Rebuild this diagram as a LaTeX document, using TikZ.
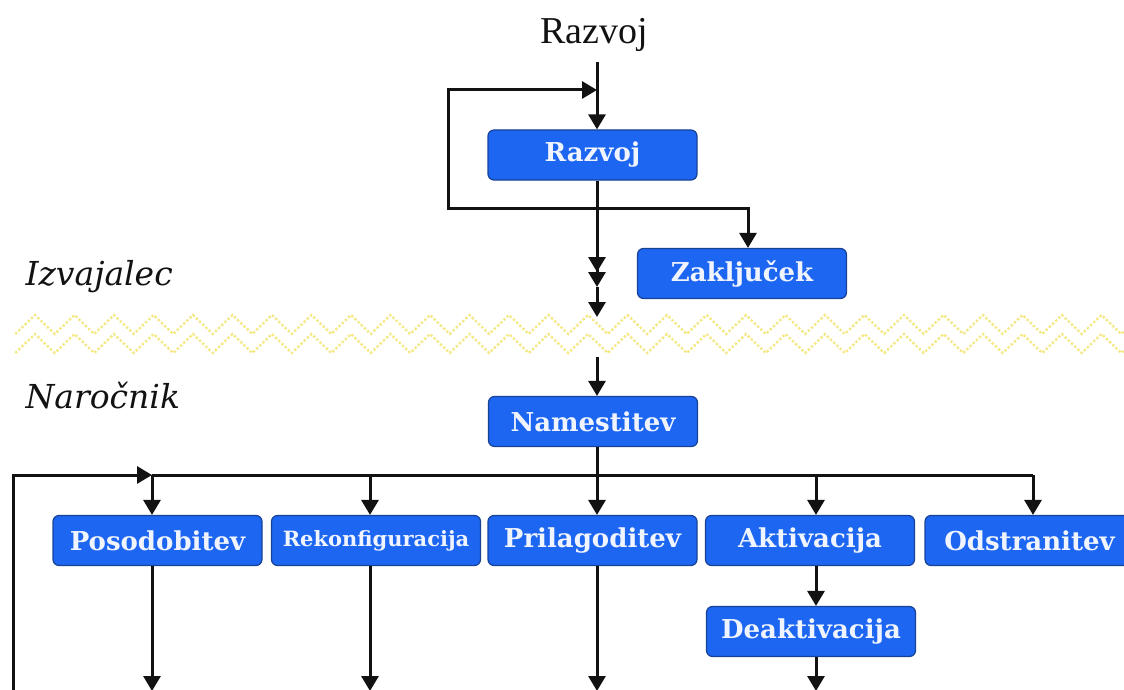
\documentclass[tikz,border=0pt]{standalone}
\usepackage{fontspec}
\setmainfont{Liberation Serif}
\newfontfamily\boxfont{DejaVu Serif}
\newfontfamily\lanefont{DejaVu Serif}
\usetikzlibrary{arrows.meta,calc}

\definecolor{boxblue}{RGB}{28,102,242}
\definecolor{boxedge}{RGB}{24,66,150}
\definecolor{boxtext}{RGB}{240,244,255}
\definecolor{zigcol}{RGB}{244,232,135}
\definecolor{ink}{RGB}{18,18,18}

\begin{document}
\begin{tikzpicture}[x=1pt,y=-1pt,
  stage/.style={draw=boxedge, line width=1.2pt, fill=boxblue, rounded corners=6pt,
    minimum width=209pt, minimum height=50pt, inner sep=0pt, text=boxtext,
    font=\boxfont\bfseries\fontsize{26}{30}\selectfont},
  smallstage/.style={stage, font=\boxfont\bfseries\fontsize{21}{24}\selectfont},
  flow/.style={line width=3pt, draw=ink, -{Triangle[width=17pt,length=15pt]}},
  twoflow/.style={line width=3pt, draw=ink,
    -{Triangle[width=17pt,length=15pt]Triangle[width=17pt,length=15pt]}},
  wire/.style={line width=3pt, draw=ink},
  lane/.style={anchor=base west, text=ink, font=\lanefont\itshape\fontsize{33}{38}\selectfont},
  zigline/.style={draw=zigcol, line width=2.4pt, dash pattern=on 2.4pt off 2pt}]

\useasboundingbox (0,0) rectangle (1124,690);
\clip (0,0) rectangle (1124,690);

% boundary between the two parties
\draw[zigline] (15.25,334) \foreach \i in {0,...,28} {-- ({35+39.5*\i},315) -- ({54.75+39.5*\i},334)};
\draw[zigline] (15.25,353) \foreach \i in {0,...,28} {-- ({35+39.5*\i},334) -- ({54.75+39.5*\i},353)};

% lane labels
\node[lane] (izv) at (22,285) {Izvajalec};
\node[lane] (nar) at (22,408) {Naročnik};

% title
\node[anchor=base, text=ink, font=\fontsize{38}{42}\selectfont] (title) at (594,44) {Razvoj};

% stages
\node[stage] (raz) at (592.5,155) {Razvoj};
\node[stage] (zak) at (742,273.5) {Zaključek};
\node[stage] (nam) at (593,421.5) {Namestitev};
\node[stage] (pos) at (157.5,540.5) {Posodobitev};
\node[smallstage] (rek) at (376,540.5) {Rekonfiguracija};
\node[stage] (pri) at (592.5,540.5) {Prilagoditev};
\node[stage] (akt) at (810,540.5) {Aktivacija};
\node[stage] (ods) at (1029.5,540.5) {Odstranitev};
\node[stage] (dea) at (811,631.5) {Deaktivacija};

% helper points
\coordinate (spine) at (597,0);
\coordinate (top) at (597,62);
\coordinate (split) at (597,208);
\coordinate (loopL) at (448,208);
\coordinate (loopT) at (448,90);
\coordinate (loopR) at (597,90);
\coordinate (zakX) at (748,208);
\coordinate (c1) at (597,287);
\coordinate (c2) at (597,317);
\coordinate (c3) at (597,357);
\coordinate (bus) at (597,475);
\coordinate (b1) at (152,475);
\coordinate (b2) at (370,475);
\coordinate (b4) at (816,475);
\coordinate (b5) at (1033,475);
\coordinate (retIn) at (13,700);
\coordinate (retC) at (13,475);
\coordinate (floor) at (0,691);

% development loop
\draw[flow] (top) -- (raz.north -| spine);
\draw[wire] (raz.south -| spine) -- (split);
\draw[flow] (split) -- (loopL) -- (loopT) -- (loopR);
\draw[flow] (split) -- (zakX) -- (zak.north -| zakX);
\draw[twoflow] (split) -- (c1);
\draw[flow] (c1) -- (c2);

% installation at the customer
\draw[flow] (c3) -- (nam.north -| spine);
\draw[wire] (nam.south -| spine) -- (bus);
\draw[wire] (b1) -- (b5);
\draw[flow] (retIn) -- (retC) -- (b1);
\draw[flow] (b1) -- (pos.north -| b1);
\draw[flow] (b2) -- (rek.north -| b2);
\draw[flow] (bus) -- (pri.north -| bus);
\draw[flow] (b4) -- (akt.north -| b4);
\draw[flow] (b5) -- (ods.north -| b5);
\draw[flow] (akt.south -| b4) -- (dea.north -| b4);

% onward flows
\draw[flow] (pos.south -| b1) -- (b1 |- floor);
\draw[flow] (rek.south -| b2) -- (b2 |- floor);
\draw[flow] (pri.south -| bus) -- (bus |- floor);
\draw[flow] (dea.south -| b4) -- (b4 |- floor);
\end{tikzpicture}
\end{document}
